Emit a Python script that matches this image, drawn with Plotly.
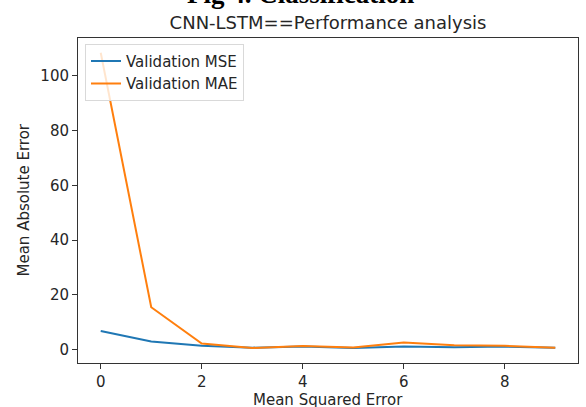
import plotly.graph_objects as go

epochs = list(range(10))
val_mse = [6.7, 2.9, 1.3, 0.6, 1.0, 0.5, 1.0, 0.8, 1.0, 0.6]
val_mae = [108.5, 15.4, 2.1, 0.5, 1.2, 0.7, 2.5, 1.5, 1.3, 0.6]

x_ticks = [0, 2, 4, 6, 8]
y_ticks = [0, 20, 40, 60, 80, 100]

W, H = 586, 407
L, R, T, B = 78, 8, 38, 44
PW, PH = W - L - R, H - T - B

TXT = "#262626"
FONT = "DejaVu Sans"

fig = go.Figure()
fig.add_trace(go.Scatter(x=epochs, y=val_mse, mode="lines", name="Validation MSE",
                         line=dict(color="#1f77b4", width=2)))
fig.add_trace(go.Scatter(x=epochs, y=val_mae, mode="lines", name="Validation MAE",
                         line=dict(color="#ff7f0e", width=2)))

axis_common = dict(showgrid=False, zeroline=False, showline=True, mirror=True,
                   linecolor="#333333", linewidth=1, ticks="outside", ticklen=5,
                   tickcolor="#333333", automargin=False,
                   tickfont=dict(family=FONT, size=15, color=TXT))

fig.update_layout(
    width=W, height=H,
    margin=dict(l=L, r=R, t=T, b=B),
    paper_bgcolor="white", plot_bgcolor="white",
    font=dict(family=FONT, size=15, color=TXT),
    title=dict(text="CNN-LSTM==Performance analysis", x=(L + PW / 2) / W, xanchor="center",
               y=1 - 22.5 / H, yanchor="middle", yref="container",
               font=dict(family=FONT, size=18, color=TXT)),
    xaxis=dict(range=[-0.45, 9.45], tickvals=x_ticks, **axis_common),
    yaxis=dict(range=[-5.0, 113.9], tickvals=y_ticks, **axis_common),
    legend=dict(x=0.014, y=0.982, xanchor="left", yanchor="top",
                bgcolor="rgba(255,255,255,0.8)", bordercolor="#d9d9d9", borderwidth=1,
                font=dict(family=FONT, size=15, color=TXT),
                itemwidth=30, tracegroupgap=0),
    showlegend=True,
)

# axis titles
fig.add_annotation(text="Mean Squared Error", xref="paper", yref="paper",
                   x=0.5, y=(H - B - 400) / PH, xanchor="center", yanchor="middle",
                   showarrow=False, font=dict(family=FONT, size=15, color=TXT))
fig.add_annotation(text="Mean Absolute Error", xref="paper", yref="paper",
                   x=(23 - L) / PW, y=0.5, xanchor="center", yanchor="middle",
                   textangle=-90, showarrow=False, font=dict(family=FONT, size=15, color=TXT))

# figure caption partially visible at top
fig.add_annotation(text="<b>Fig 4. Classification</b>", xref="paper", yref="paper",
                   x=(300 - L) / PW, y=1 + (T - 11) / PH,
                   xanchor="center", yanchor="bottom", showarrow=False,
                   font=dict(family="Liberation Serif", size=27, color="black"))

fig.write_html("out.html", config={"displayModeBar": False},
               post_script="document.body.style.margin='0';document.body.style.overflow='hidden';")
